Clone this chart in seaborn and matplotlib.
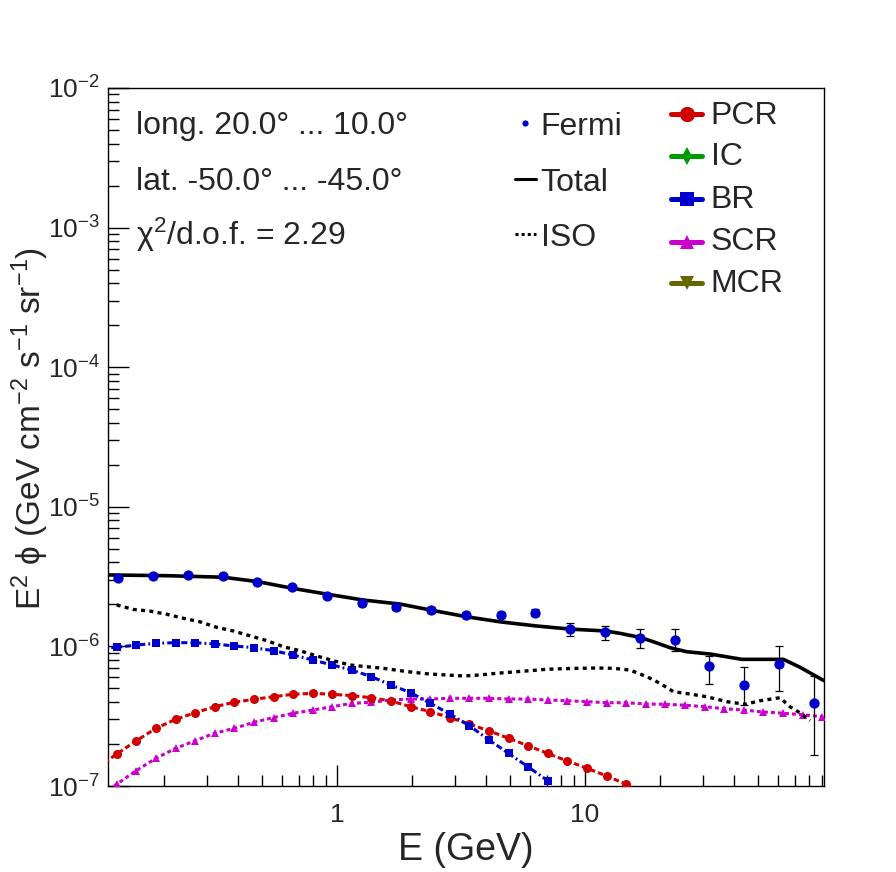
import numpy as np
import pandas as pd
import matplotlib
matplotlib.use("Agg")
import matplotlib.pyplot as plt
import matplotlib.ticker as mticker
import seaborn as sns

# ---------------- data ----------------
fermi_E = [0.131, 0.181, 0.251, 0.347, 0.476, 0.659, 0.911, 1.26, 1.73, 2.39, 3.31,
           4.58, 6.28, 8.70, 12.0, 16.7, 23.1, 31.6, 43.8, 60.6, 83.8]
fermi_flux = [3.07e-6, 3.19e-6, 3.24e-6, 3.19e-6, 2.91e-6, 2.65e-6, 2.31e-6, 2.04e-6,
              1.91e-6, 1.82e-6, 1.68e-6, 1.68e-6, 1.74e-6, 1.33e-6, 1.26e-6, 1.14e-6,
              1.12e-6, 7.24e-7, 5.29e-7, 7.48e-7, 3.91e-7]
fermi_err_lo = [1.0e-7, 1.0e-7, 1.0e-7, 1.0e-7, 0.9e-7, 0.9e-7, 0.8e-7, 0.8e-7,
                0.8e-7, 0.8e-7, 0.8e-7, 0.9e-7, 1.0e-7, 1.4e-7, 1.5e-7, 1.7e-7,
                1.9e-7, 1.89e-7, 1.49e-7, 2.71e-7, 2.25e-7]
fermi_err_hi = [1.0e-7, 1.0e-7, 1.0e-7, 1.0e-7, 0.9e-7, 0.9e-7, 0.8e-7, 0.8e-7,
                0.8e-7, 0.8e-7, 0.8e-7, 0.9e-7, 1.0e-7, 1.3e-7, 1.5e-7, 1.9e-7,
                2.1e-7, 1.29e-7, 1.79e-7, 2.52e-7, 2.23e-7]

total_E = [0.1193, 0.2057, 0.3470, 0.4803, 0.6585, 0.9088, 1.273, 1.795, 2.393, 3.334,
           4.543, 6.387, 8.724, 12.07, 13.84, 16.67, 18.86, 22.01, 25.71, 31.92,
           42.85, 63.05, 73.60, 91.98]
total_flux = [3.25e-6, 3.21e-6, 3.13e-6, 2.91e-6, 2.61e-6, 2.37e-6, 2.15e-6, 2.01e-6,
              1.82e-6, 1.63e-6, 1.50e-6, 1.40e-6, 1.33e-6, 1.29e-6, 1.24e-6, 1.16e-6,
              1.08e-6, 9.79e-7, 9.16e-7, 8.82e-7, 8.08e-7, 8.08e-7, 7.09e-7, 5.68e-7]

iso_E = [0.1293, 0.1509, 0.1762, 0.2057, 0.2400, 0.2803, 0.3272, 0.3818, 0.4458, 0.5206,
         0.6074, 0.7093, 0.8281, 0.9663, 1.128, 1.318, 1.537, 1.795, 2.031, 2.371,
         2.769, 3.231, 3.773, 4.406, 5.140, 6.002, 7.009, 8.177, 9.546, 11.15,
         13.01, 15.19, 17.74, 20.07, 22.70, 26.51, 30.95, 37.27, 44.18, 50.77,
         61.13, 67.07, 74.76, 80.79]
iso_flux = [1.98e-6, 1.84e-6, 1.79e-6, 1.70e-6, 1.59e-6, 1.50e-6, 1.37e-6, 1.29e-6,
            1.19e-6, 1.10e-6, 9.95e-7, 9.31e-7, 8.54e-7, 7.90e-7, 7.36e-7, 7.15e-7,
            6.97e-7, 6.70e-7, 6.52e-7, 6.34e-7, 6.24e-7, 6.14e-7, 6.24e-7, 6.42e-7,
            6.56e-7, 6.70e-7, 6.86e-7, 6.92e-7, 6.97e-7, 7.00e-7, 6.97e-7, 6.77e-7,
            6.07e-7, 5.44e-7, 4.74e-7, 4.56e-7, 4.36e-7, 4.02e-7, 3.85e-7, 4.08e-7,
            4.29e-7, 3.70e-7, 3.28e-7, 2.94e-7]

model_E = [0.1079, 0.1294, 0.1552, 0.1862, 0.2234, 0.2679, 0.3214, 0.3855, 0.4624,
           0.5546, 0.6653, 0.7980, 0.9572, 1.148, 1.377, 1.652, 1.982, 2.377, 2.851,
           3.420, 4.102, 4.920, 5.902, 7.079, 8.492, 10.19, 12.22, 14.66, 17.58,
           21.09, 25.29, 30.34, 36.39, 43.65, 52.36, 62.81, 75.34, 90.36]
pcr_flux = [1.35e-7, 1.695e-7, 2.11e-7, 2.59e-7, 3.00e-7, 3.35e-7, 3.70e-7, 3.98e-7,
            4.18e-7, 4.36e-7, 4.54e-7, 4.61e-7, 4.54e-7, 4.44e-7, 4.29e-7, 4.06e-7,
            3.70e-7, 3.41e-7, 3.09e-7, 2.78e-7, 2.48e-7, 2.20e-7, 1.94e-7, 1.71e-7,
            1.51e-7, 1.34e-7, 1.18e-7, 1.03e-7]
br_flux = [9.7e-7, 9.85e-7, 1.023e-6, 1.052e-6, 1.063e-6, 1.063e-6, 1.040e-6, 1.007e-6,
           9.79e-7, 9.31e-7, 8.68e-7, 7.99e-7, 7.36e-7, 6.77e-7, 6.07e-7, 5.29e-7,
           4.66e-7, 3.91e-7, 3.28e-7, 2.70e-7, 2.14e-7, 1.71e-7, 1.37e-7, 1.09e-7]
scr_flux = [0.807e-7, 1.03e-7, 1.29e-7, 1.58e-7, 1.86e-7, 2.11e-7, 2.39e-7, 2.59e-7,
            2.86e-7, 3.09e-7, 3.32e-7, 3.50e-7, 3.70e-7, 3.91e-7, 3.98e-7, 4.13e-7,
            4.20e-7, 4.20e-7, 4.25e-7, 4.25e-7, 4.25e-7, 4.20e-7, 4.20e-7, 4.13e-7,
            4.08e-7, 4.02e-7, 3.95e-7, 3.95e-7, 3.87e-7, 3.85e-7, 3.79e-7, 3.70e-7,
            3.58e-7, 3.50e-7, 3.39e-7, 3.32e-7, 3.24e-7, 3.14e-7]

x_ticks = [1, 10]
x_tick_labels = ["1", "10"]
x_range = [0.1193, 91.98]
y_range = [1e-7, 1e-2]

info_lines = ["long. 20.0° ... 10.0°", "lat. -50.0° ... -45.0°",
              "χ$^{2}$/d.o.f. = 2.29"]
legend1_labels = ["Fermi", "Total", "ISO"]
legend2_labels = ["PCR", "IC", "BR", "SCR", "MCR"]

# ---------------- style ----------------
sns.set_theme(style="white")
plt.rcParams["font.family"] = ["Liberation Sans", "DejaVu Sans"]
plt.rcParams["mathtext.fontset"] = "custom"
plt.rcParams["mathtext.rm"] = "Liberation Sans"
plt.rcParams["mathtext.it"] = "Liberation Sans:italic"
plt.rcParams["mathtext.bf"] = "Liberation Sans:bold"
plt.rcParams["mathtext.sf"] = "Liberation Sans"

RED = "#d00000"
BLUE = "#0000cc"
MAG = "#cc00cc"
GREEN = "#009900"
OLIVE = "#666600"

fig = plt.figure(figsize=(8.96, 8.72), dpi=100)
fig.patch.set_facecolor("white")
ax = fig.add_axes([108 / 896, 1 - 786 / 872, 716 / 896, 698 / 872])
ax.set_xscale("log")
ax.set_yscale("log")

line_kw = dict(ax=ax, estimator=None, errorbar=None, sort=True, legend=False)

# components
sns.lineplot(x=model_E[:len(scr_flux)], y=scr_flux, color=MAG, lw=2.2,
             linestyle=(0, (1.3, 1.0)), marker="^", markersize=6,
             markeredgewidth=0, markeredgecolor=MAG, zorder=3, **line_kw)
sns.lineplot(x=model_E[:len(pcr_flux)], y=pcr_flux, color=RED, lw=2.2,
             linestyle=(0, (1.8, 1.0)), marker="o", markersize=6.5,
             markeredgewidth=0, markeredgecolor=RED, zorder=3, **line_kw)
sns.lineplot(x=model_E[:len(br_flux)], y=br_flux, color=BLUE, lw=2.2,
             linestyle=(0, (2.0, 1.0, 0.6, 1.0)), marker="s", markersize=5.5,
             markeredgewidth=0, markeredgecolor=BLUE, zorder=3, **line_kw)
# ISO and total
sns.lineplot(x=iso_E, y=iso_flux, color="black", lw=2.4,
             linestyle=(0, (1.2, 1.3)), zorder=4, **line_kw)
sns.lineplot(x=total_E, y=total_flux, color="black", lw=2.6, zorder=4, **line_kw)

# Fermi data
ax.errorbar(fermi_E, fermi_flux, yerr=[fermi_err_lo, fermi_err_hi], fmt="none",
            ecolor="black", elinewidth=0.9, capsize=3, capthick=0.9, zorder=5)
sns.scatterplot(x=fermi_E, y=fermi_flux, ax=ax, color=BLUE, s=55, linewidth=0,
                zorder=6, legend=False)

ax.set_xlim(*x_range)
ax.set_ylim(*y_range)

# ticks
ax.xaxis.set_major_locator(mticker.FixedLocator(x_ticks))
ax.xaxis.set_major_formatter(mticker.FixedFormatter(x_tick_labels))
ax.xaxis.set_minor_locator(mticker.LogLocator(base=10, subs=np.arange(2, 10), numticks=20))
ax.xaxis.set_minor_formatter(mticker.NullFormatter())
ax.yaxis.set_major_locator(mticker.LogLocator(base=10, numticks=20))
ax.yaxis.set_minor_locator(mticker.LogLocator(base=10, subs=np.arange(2, 10), numticks=20))
ax.yaxis.set_minor_formatter(mticker.NullFormatter())
ax.tick_params(which="major", direction="in", length=15, width=1.0, color="black",
               top=False, right=False, left=True, bottom=True, labelsize=19)
ax.tick_params(which="minor", direction="in", length=8, width=1.0, color="black",
               top=False, right=False, left=True, bottom=True)
ax.tick_params(axis="x", which="major", pad=12)
ax.tick_params(axis="y", which="major", pad=6)
for sp in ax.spines.values():
    sp.set_color("black")
    sp.set_linewidth(1.0)
    sp.set_visible(True)

ax.set_xlabel("E (GeV)", fontsize=27)
ax.xaxis.set_label_coords(0.5, -0.066)
ax.set_ylabel("E$^{2}$ \u03d5 (GeV cm$^{-2}$ s$^{-1}$ sr$^{-1}$)", fontsize=24)
ax.yaxis.set_label_coords(-0.079, 0.512)

# info text
TX = 23
for txt, yb in zip(info_lines, [0.934, 0.854, 0.775]):
    ax.text(0.0391, yb, txt, transform=ax.transAxes, fontsize=TX, va="baseline", ha="left")

# legend 1 (Fermi / Total / ISO)
tr = ax.transAxes
ax.plot([0.5824], [0.9494], transform=tr, clip_on=False, marker="o", ms=4.5,
        color=BLUE, mew=0, ls="none")
ax.plot([0.5684, 0.5978], [0.8692, 0.8692], transform=tr, clip_on=False,
        color="black", lw=2.2)
ax.plot([0.5684, 0.5978], [0.7908, 0.7908], transform=tr, clip_on=False,
        color="black", lw=2.2, linestyle=(0, (1.0, 1.0)))
for lab, yb in zip(legend1_labels, [0.9327, 0.8529, 0.7741]):
    ax.text(0.6043, yb, lab, transform=tr, fontsize=TX, va="baseline", ha="left")

# legend 2 (components)
leg2_colors = [RED, GREEN, BLUE, MAG, OLIVE]
leg2_markers = ["o", "d", "s", "^", "v"]
leg2_ms = [11, 9, 10, 10, 10]
leg2_y = [0.9628, 0.9026, 0.8410, 0.7798, 0.7211]
leg2_base = [0.9480, 0.8897, 0.8277, 0.7679, 0.7073]
for lab, c, m, ms, yc, yb in zip(legend2_labels, leg2_colors, leg2_markers, leg2_ms,
                                 leg2_y, leg2_base):
    ax.plot([0.7863, 0.8296], [yc, yc], transform=tr, clip_on=False, color=c, lw=3.6)
    ax.plot([0.808], [yc], transform=tr, clip_on=False, color=c, marker=m, ms=ms,
            mew=0, ls="none")
    ax.text(0.8418, yb, lab, transform=tr, fontsize=TX, va="baseline", ha="left")

fig.savefig("out.png", dpi=100, facecolor="white")
